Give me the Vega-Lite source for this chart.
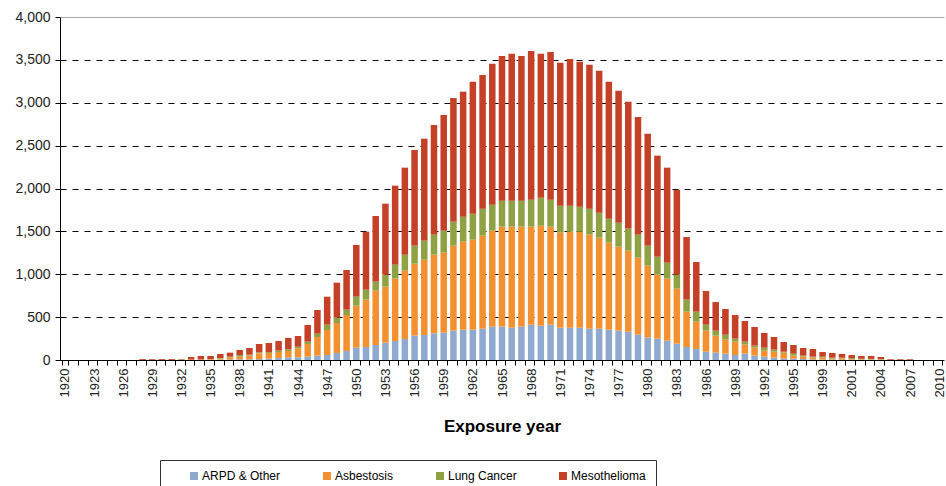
{
  "$schema": "https://vega.github.io/schema/vega-lite/v6.json",
  "width": 884,
  "height": 343,
  "autosize": "none",
  "padding": {"left": 60, "top": 17, "right": 2, "bottom": 126},
  "background": "white",
  "config": {"font": "Liberation Sans", "view": {"stroke": null}},
  "data": {"values": [
    {"year":1920,"ARPD & Other":0,"Asbestosis":0,"Lung Cancer":0,"Mesothelioma":0},
    {"year":1921,"ARPD & Other":0,"Asbestosis":0,"Lung Cancer":0,"Mesothelioma":0},
    {"year":1922,"ARPD & Other":0,"Asbestosis":0,"Lung Cancer":0,"Mesothelioma":0},
    {"year":1923,"ARPD & Other":0,"Asbestosis":0,"Lung Cancer":0,"Mesothelioma":0},
    {"year":1924,"ARPD & Other":0,"Asbestosis":0,"Lung Cancer":0,"Mesothelioma":0},
    {"year":1925,"ARPD & Other":0,"Asbestosis":0,"Lung Cancer":0,"Mesothelioma":0},
    {"year":1926,"ARPD & Other":0,"Asbestosis":0,"Lung Cancer":0,"Mesothelioma":0},
    {"year":1927,"ARPD & Other":0,"Asbestosis":0,"Lung Cancer":0,"Mesothelioma":0},
    {"year":1928,"ARPD & Other":0,"Asbestosis":0,"Lung Cancer":0,"Mesothelioma":10},
    {"year":1929,"ARPD & Other":0,"Asbestosis":0,"Lung Cancer":0,"Mesothelioma":10},
    {"year":1930,"ARPD & Other":0,"Asbestosis":0,"Lung Cancer":0,"Mesothelioma":10},
    {"year":1931,"ARPD & Other":0,"Asbestosis":0,"Lung Cancer":0,"Mesothelioma":10},
    {"year":1932,"ARPD & Other":0,"Asbestosis":2,"Lung Cancer":6,"Mesothelioma":4},
    {"year":1933,"ARPD & Other":0,"Asbestosis":5,"Lung Cancer":0,"Mesothelioma":30},
    {"year":1934,"ARPD & Other":2,"Asbestosis":5,"Lung Cancer":0,"Mesothelioma":40},
    {"year":1935,"ARPD & Other":2,"Asbestosis":7,"Lung Cancer":2,"Mesothelioma":36},
    {"year":1936,"ARPD & Other":5,"Asbestosis":11,"Lung Cancer":7,"Mesothelioma":47},
    {"year":1937,"ARPD & Other":5,"Asbestosis":26,"Lung Cancer":8,"Mesothelioma":47},
    {"year":1938,"ARPD & Other":8,"Asbestosis":31,"Lung Cancer":19,"Mesothelioma":59},
    {"year":1939,"ARPD & Other":8,"Asbestosis":42,"Lung Cancer":12,"Mesothelioma":78},
    {"year":1940,"ARPD & Other":10,"Asbestosis":68,"Lung Cancer":11,"Mesothelioma":98},
    {"year":1941,"ARPD & Other":16,"Asbestosis":66,"Lung Cancer":11,"Mesothelioma":105},
    {"year":1942,"ARPD & Other":23,"Asbestosis":70,"Lung Cancer":16,"Mesothelioma":113},
    {"year":1943,"ARPD & Other":31,"Asbestosis":74,"Lung Cancer":19,"Mesothelioma":133},
    {"year":1944,"ARPD & Other":31,"Asbestosis":105,"Lung Cancer":19,"Mesothelioma":125},
    {"year":1945,"ARPD & Other":39,"Asbestosis":148,"Lung Cancer":27,"Mesothelioma":194},
    {"year":1946,"ARPD & Other":51,"Asbestosis":217,"Lung Cancer":39,"Mesothelioma":276},
    {"year":1947,"ARPD & Other":58,"Asbestosis":292,"Lung Cancer":62,"Mesothelioma":326},
    {"year":1948,"ARPD & Other":82,"Asbestosis":349,"Lung Cancer":63,"Mesothelioma":408},
    {"year":1949,"ARPD & Other":105,"Asbestosis":420,"Lung Cancer":62,"Mesothelioma":463},
    {"year":1950,"ARPD & Other":144,"Asbestosis":490,"Lung Cancer":105,"Mesothelioma":602},
    {"year":1951,"ARPD & Other":152,"Asbestosis":552,"Lung Cancer":116,"Mesothelioma":676},
    {"year":1952,"ARPD & Other":175,"Asbestosis":634,"Lung Cancer":105,"Mesothelioma":765},
    {"year":1953,"ARPD & Other":202,"Asbestosis":653,"Lung Cancer":140,"Mesothelioma":828},
    {"year":1954,"ARPD & Other":222,"Asbestosis":727,"Lung Cancer":163,"Mesothelioma":921},
    {"year":1955,"ARPD & Other":245,"Asbestosis":797,"Lung Cancer":186,"Mesothelioma":1015},
    {"year":1956,"ARPD & Other":284,"Asbestosis":839,"Lung Cancer":210,"Mesothelioma":1116},
    {"year":1957,"ARPD & Other":292,"Asbestosis":878,"Lung Cancer":222,"Mesothelioma":1189},
    {"year":1958,"ARPD & Other":311,"Asbestosis":917,"Lung Cancer":234,"Mesothelioma":1279},
    {"year":1959,"ARPD & Other":319,"Asbestosis":933,"Lung Cancer":256,"Mesothelioma":1349},
    {"year":1960,"ARPD & Other":342,"Asbestosis":991,"Lung Cancer":280,"Mesothelioma":1442},
    {"year":1961,"ARPD & Other":354,"Asbestosis":1026,"Lung Cancer":291,"Mesothelioma":1458},
    {"year":1962,"ARPD & Other":354,"Asbestosis":1049,"Lung Cancer":303,"Mesothelioma":1540},
    {"year":1963,"ARPD & Other":365,"Asbestosis":1085,"Lung Cancer":315,"Mesothelioma":1559},
    {"year":1964,"ARPD & Other":389,"Asbestosis":1119,"Lung Cancer":303,"Mesothelioma":1645},
    {"year":1965,"ARPD & Other":389,"Asbestosis":1166,"Lung Cancer":303,"Mesothelioma":1687},
    {"year":1966,"ARPD & Other":377,"Asbestosis":1178,"Lung Cancer":303,"Mesothelioma":1714},
    {"year":1967,"ARPD & Other":389,"Asbestosis":1166,"Lung Cancer":303,"Mesothelioma":1687},
    {"year":1968,"ARPD & Other":412,"Asbestosis":1143,"Lung Cancer":315,"Mesothelioma":1734},
    {"year":1969,"ARPD & Other":400,"Asbestosis":1166,"Lung Cancer":327,"Mesothelioma":1679},
    {"year":1970,"ARPD & Other":412,"Asbestosis":1143,"Lung Cancer":315,"Mesothelioma":1722},
    {"year":1971,"ARPD & Other":377,"Asbestosis":1108,"Lung Cancer":315,"Mesothelioma":1667},
    {"year":1972,"ARPD & Other":377,"Asbestosis":1120,"Lung Cancer":303,"Mesothelioma":1710},
    {"year":1973,"ARPD & Other":377,"Asbestosis":1120,"Lung Cancer":291,"Mesothelioma":1691},
    {"year":1974,"ARPD & Other":365,"Asbestosis":1097,"Lung Cancer":303,"Mesothelioma":1679},
    {"year":1975,"ARPD & Other":365,"Asbestosis":1062,"Lung Cancer":291,"Mesothelioma":1656},
    {"year":1976,"ARPD & Other":354,"Asbestosis":1014,"Lung Cancer":280,"Mesothelioma":1598},
    {"year":1977,"ARPD & Other":342,"Asbestosis":980,"Lung Cancer":279,"Mesothelioma":1540},
    {"year":1978,"ARPD & Other":330,"Asbestosis":945,"Lung Cancer":257,"Mesothelioma":1480},
    {"year":1979,"ARPD & Other":295,"Asbestosis":898,"Lung Cancer":269,"Mesothelioma":1372},
    {"year":1980,"ARPD & Other":264,"Asbestosis":836,"Lung Cancer":233,"Mesothelioma":1306},
    {"year":1981,"ARPD & Other":249,"Asbestosis":746,"Lung Cancer":210,"Mesothelioma":1178},
    {"year":1982,"ARPD & Other":225,"Asbestosis":724,"Lung Cancer":186,"Mesothelioma":1108},
    {"year":1983,"ARPD & Other":191,"Asbestosis":641,"Lung Cancer":163,"Mesothelioma":988},
    {"year":1984,"ARPD & Other":152,"Asbestosis":412,"Lung Cancer":140,"Mesothelioma":730},
    {"year":1985,"ARPD & Other":128,"Asbestosis":319,"Lung Cancer":117,"Mesothelioma":579},
    {"year":1986,"ARPD & Other":97,"Asbestosis":245,"Lung Cancer":70,"Mesothelioma":393},
    {"year":1987,"ARPD & Other":86,"Asbestosis":198,"Lung Cancer":58,"Mesothelioma":334},
    {"year":1988,"ARPD & Other":74,"Asbestosis":163,"Lung Cancer":58,"Mesothelioma":300},
    {"year":1989,"ARPD & Other":58,"Asbestosis":156,"Lung Cancer":35,"Mesothelioma":276},
    {"year":1990,"ARPD & Other":74,"Asbestosis":105,"Lung Cancer":35,"Mesothelioma":241},
    {"year":1991,"ARPD & Other":51,"Asbestosis":93,"Lung Cancer":23,"Mesothelioma":218},
    {"year":1992,"ARPD & Other":39,"Asbestosis":70,"Lung Cancer":35,"Mesothelioma":171},
    {"year":1993,"ARPD & Other":27,"Asbestosis":70,"Lung Cancer":24,"Mesothelioma":147},
    {"year":1994,"ARPD & Other":16,"Asbestosis":70,"Lung Cancer":11,"Mesothelioma":113},
    {"year":1995,"ARPD & Other":16,"Asbestosis":35,"Lung Cancer":23,"Mesothelioma":101},
    {"year":1996,"ARPD & Other":12,"Asbestosis":27,"Lung Cancer":12,"Mesothelioma":89},
    {"year":1997,"ARPD & Other":8,"Asbestosis":22,"Lung Cancer":9,"Mesothelioma":89},
    {"year":1998,"ARPD & Other":5,"Asbestosis":22,"Lung Cancer":12,"Mesothelioma":54},
    {"year":1999,"ARPD & Other":5,"Asbestosis":11,"Lung Cancer":11,"Mesothelioma":55},
    {"year":2000,"ARPD & Other":3,"Asbestosis":13,"Lung Cancer":11,"Mesothelioma":43},
    {"year":2001,"ARPD & Other":3,"Asbestosis":8,"Lung Cancer":12,"Mesothelioma":35},
    {"year":2002,"ARPD & Other":2,"Asbestosis":6,"Lung Cancer":6,"Mesothelioma":33},
    {"year":2003,"ARPD & Other":2,"Asbestosis":5,"Lung Cancer":6,"Mesothelioma":34},
    {"year":2004,"ARPD & Other":1,"Asbestosis":4,"Lung Cancer":5,"Mesothelioma":25},
    {"year":2005,"ARPD & Other":0,"Asbestosis":0,"Lung Cancer":2,"Mesothelioma":8},
    {"year":2006,"ARPD & Other":0,"Asbestosis":0,"Lung Cancer":2,"Mesothelioma":8},
    {"year":2007,"ARPD & Other":0,"Asbestosis":0,"Lung Cancer":2,"Mesothelioma":8},
    {"year":2008,"ARPD & Other":0,"Asbestosis":0,"Lung Cancer":0,"Mesothelioma":0},
    {"year":2009,"ARPD & Other":0,"Asbestosis":0,"Lung Cancer":0,"Mesothelioma":0},
    {"year":2010,"ARPD & Other":0,"Asbestosis":0,"Lung Cancer":0,"Mesothelioma":0}
  ]},
  "transform": [
    {"fold": ["ARPD & Other", "Asbestosis", "Lung Cancer", "Mesothelioma"], "as": ["cause", "value"]}
  ],
  "mark": {"type": "bar"},
  "encoding": {
    "x": {
      "field": "year",
      "type": "ordinal",
      "scale": {"paddingInner": 0.33, "paddingOuter": 0.165},
      "axis": {
        "title": "Exposure year",
        "titleFont": "Liberation Sans",
        "titleFontSize": 17,
        "titleFontWeight": "bold",
        "titleColor": "black",
        "titlePadding": 22,
        "labelFont": "Liberation Sans",
        "labelAngle": -90,
        "labelFontSize": 13,
        "labelColor": "#222222",
        "labelPadding": 3,
        "labelOverlap": false,
        "labelExpr": "(datum.value - 1920) % 3 == 0 ? (datum.value == 1998 ? '1999' : '' + datum.value) : ''",
        "tickBand": "extent",
        "tickSize": 5,
        "tickColor": "black",
        "domainColor": "black",
        "grid": false
      }
    },
    "y": {
      "field": "value",
      "type": "quantitative",
      "stack": "zero",
      "scale": {"domain": [0, 4000], "nice": false},
      "axis": {
        "title": null,
        "values": [0, 500, 1000, 1500, 2000, 2500, 3000, 3500, 4000],
        "format": ",.0f",
        "labelFont": "Liberation Sans",
        "labelFontSize": 14,
        "labelColor": "#222222",
        "labelPadding": 5,
        "tickSize": 5,
        "tickColor": "black",
        "domainColor": "black",
        "gridColor": {"condition": {"test": "datum.value == 4000", "value": "#a6a6a6"}, "value": "black"},
        "gridDash": {"condition": {"test": "datum.value == 4000", "value": []}, "value": [6, 6]}
      }
    },
    "order": {"field": "cause", "type": "nominal", "sort": "ascending"},
    "color": {
      "field": "cause",
      "type": "nominal",
      "scale": {
        "domain": ["ARPD & Other", "Asbestosis", "Lung Cancer", "Mesothelioma"],
        "range": ["#8FA9D0", "#F3902F", "#8EA243", "#C44027"]
      },
      "legend": {
        "title": null,
        "orient": "none",
        "legendX": 100,
        "legendY": 443,
        "direction": "horizontal",
        "columns": 4,
        "columnPadding": 22,
        "padding": 10,
        "symbolOffset": 18,
        "strokeColor": "#333333",
        "symbolType": "square",
        "symbolSize": 64,
        "symbolStrokeWidth": 0,
        "labelFont": "Liberation Sans",
        "labelFontSize": 12,
        "labelColor": "black",
        "labelOffset": 2
      }
    }
  }
}
